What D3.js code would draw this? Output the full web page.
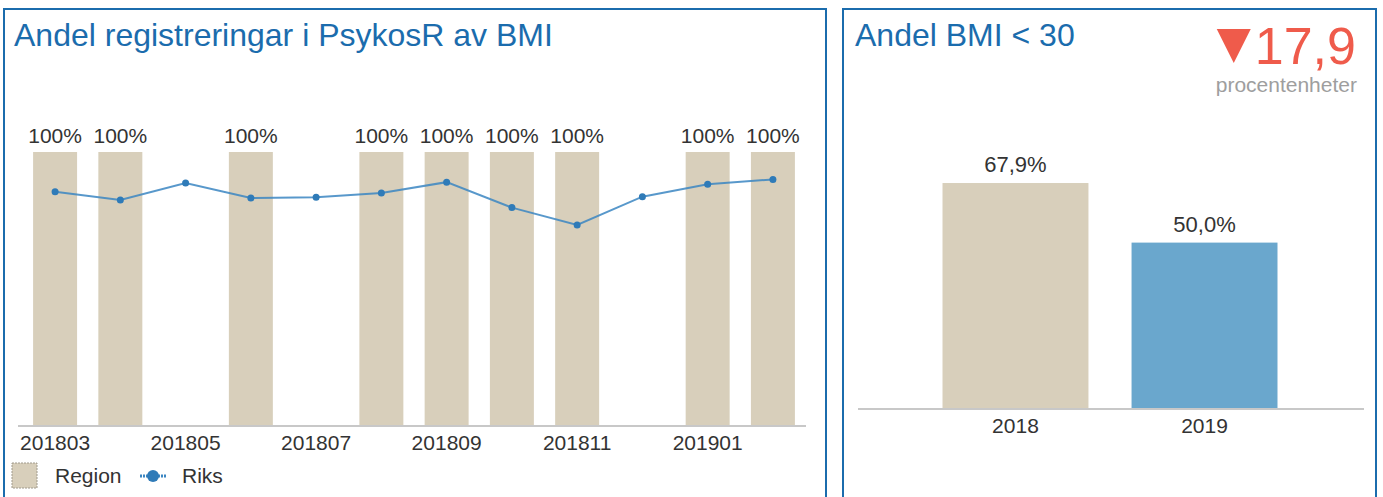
<!DOCTYPE html>
<html>
<head>
<meta charset="utf-8">
<script src="https://cdn.jsdelivr.net/npm/d3@7"></script>
<style>
  body { margin: 0; background: #fff; }
  svg { display: block; font-family: Arial, "Liberation Sans", sans-serif; }
</style>
</head>
<body>
<svg id="chart" width="1383" height="497"></svg>
<script>
// data
var months = ['201803', '201804', '201805', '201806', '201807', '201808',
              '201809', '201810', '201811', '201812', '201901', '201902'];
var regionValues = [100, 100, null, 100, null, 100, 100, 100, 100, null, 100, 100];
var riksValues = [85.5, 82.5, 88.7, 83.2, 83.5, 85.0, 89.0, 79.7, 73.4, 83.7, 88.2, 90.0];
var tickLabels = ['201803', '201805', '201807', '201809', '201811', '201901'];

var years = ['2018', '2019'];
var bmiValues = [67.9, 50.0];
var changeValue = '17,9';
var changeUnit = 'procentenheter';

var blue = '#1b6cad';
var beige = '#d8cfbb';
var textCol = '#333';

var svg = d3.select('#chart');

// panel frames
svg.append('rect').attr('x', 4).attr('y', 9).attr('width', 822).attr('height', 500)
    .attr('fill', 'none').attr('stroke', blue).attr('stroke-width', 2);
svg.append('rect').attr('x', 843).attr('y', 9).attr('width', 533).attr('height', 500)
    .attr('fill', 'none').attr('stroke', blue).attr('stroke-width', 2);

// ---- left panel ----
svg.append('text').attr('x', 14).attr('y', 46)
    .attr('fill', blue).style('font-size', '32px')
    .text('Andel registreringar i PsykosR av BMI');

var x = d3.scaleBand()
    .domain(months)
    .range([22, 806])
    .paddingInner(0.326)
    .paddingOuter(0.17);

var y = d3.scaleLinear()
    .domain([0, 100])
    .range([426, 152]);

var left = svg.append('g');
var region = months.map(function(m, i) { return {m: m, v: regionValues[i]}; })
    .filter(function(d) { return d.v != null; });

left.selectAll('rect.region')
    .data(region)
    .enter()
    .append('rect')
    .attr('class', 'region')
    .attr('x', function(d) { return x(d.m); })
    .attr('y', function(d) { return y(d.v); })
    .attr('width', x.bandwidth())
    .attr('height', function(d) { return y(0) - y(d.v); })
    .attr('fill', beige);

left.selectAll('text.lbl')
    .data(region)
    .enter()
    .append('text')
    .attr('class', 'lbl')
    .attr('x', function(d) { return x(d.m) + x.bandwidth() / 2; })
    .attr('y', function(d) { return y(d.v) - 9; })
    .attr('text-anchor', 'middle')
    .attr('fill', textCol)
    .style('font-size', '21px')
    .text(function(d) { return d.v + '%'; });

var riks = months.map(function(m, i) { return {m: m, v: riksValues[i]}; });
var line = d3.line()
    .x(function(d) { return x(d.m) + x.bandwidth() / 2; })
    .y(function(d) { return y(d.v); });

left.append('path')
    .datum(riks)
    .attr('d', line)
    .attr('fill', 'none')
    .attr('stroke', '#3b86c2')
    .attr('stroke-width', 2)
    .attr('stroke-opacity', 0.85);

left.selectAll('circle.riks')
    .data(riks)
    .enter()
    .append('circle')
    .attr('class', 'riks')
    .attr('cx', function(d) { return x(d.m) + x.bandwidth() / 2; })
    .attr('cy', function(d) { return y(d.v); })
    .attr('r', 3.5)
    .attr('fill', '#2f7bb8');

// x axis
var xAxis = d3.axisBottom(x)
    .tickValues(tickLabels)
    .tickSize(0)
    .tickPadding(9);
var ax = left.append('g')
    .attr('transform', 'translate(0,426)')
    .call(xAxis);
ax.select('.domain').attr('d', 'M18,0H806').attr('stroke', '#c8c8c8').attr('stroke-width', 2);
ax.selectAll('text').attr('fill', textCol).style('font-size', '21px')
    .style('font-family', 'Arial, "Liberation Sans", sans-serif');

// legend
var lg = svg.append('g').attr('transform', 'translate(12,463)');
lg.append('rect').attr('x', 0).attr('y', 0).attr('width', 25).attr('height', 25)
    .attr('fill', beige).attr('stroke', '#a09a8c').attr('stroke-width', 1)
    .attr('stroke-dasharray', '2,1');
lg.append('text').attr('x', 43).attr('y', 20).attr('fill', textCol)
    .style('font-size', '21px').text('Region');
lg.append('line').attr('x1', 128).attr('x2', 154).attr('y1', 13).attr('y2', 13)
    .attr('stroke', '#3b86c2').attr('stroke-width', 3).attr('stroke-dasharray', '2,1');
lg.append('circle').attr('cx', 141).attr('cy', 13).attr('r', 6).attr('fill', '#2f7bb8');
lg.append('text').attr('x', 170).attr('y', 20).attr('fill', textCol)
    .style('font-size', '21px').text('Riks');

// ---- right panel ----
svg.append('text').attr('x', 855).attr('y', 46)
    .attr('fill', blue).style('font-size', '32px')
    .text('Andel BMI < 30');

var red = '#ef5b4b';
var chg = svg.append('text').attr('x', 1356).attr('y', 64)
    .attr('text-anchor', 'end').attr('fill', red)
    .style('font-size', '52px').text(changeValue);
var cb = chg.node().getBBox();
var tx = cb.x - 4;
svg.append('path')
    .attr('d', d3.line()([[tx - 34, 29], [tx, 29], [tx - 17, 63]]) + 'Z')
    .attr('fill', red);
svg.append('text').attr('x', 1357).attr('y', 92)
    .attr('text-anchor', 'end').attr('fill', '#9e9e9e')
    .style('font-size', '21px').text(changeUnit);

var x2 = d3.scaleBand()
    .domain(years)
    .range([858, 1362])
    .paddingInner(0.228)
    .paddingOuter(0.447);

var y2 = d3.scaleLinear()
    .domain([0, 100])
    .range([409, 409 - 332.8]);

var right = svg.append('g');
var bmi = years.map(function(yr, i) { return {yr: yr, v: bmiValues[i]}; });

right.selectAll('rect.bmi')
    .data(bmi)
    .enter()
    .append('rect')
    .attr('class', 'bmi')
    .attr('x', function(d) { return x2(d.yr); })
    .attr('y', function(d) { return y2(d.v); })
    .attr('width', x2.bandwidth())
    .attr('height', function(d) { return y2(0) - y2(d.v); })
    .attr('fill', function(d, i) { return i === 0 ? beige : '#6aa7cd'; });

right.selectAll('text.bl')
    .data(bmi)
    .enter()
    .append('text')
    .attr('class', 'bl')
    .attr('x', function(d) { return x2(d.yr) + x2.bandwidth() / 2; })
    .attr('y', function(d) { return y2(d.v) - 11; })
    .attr('text-anchor', 'middle')
    .attr('fill', textCol)
    .style('font-size', '22px')
    .text(function(d) { return d3.format('.1f')(d.v).replace('.', ',') + '%'; });

var ax2 = right.append('g')
    .attr('transform', 'translate(0,409)')
    .call(d3.axisBottom(x2).tickSize(0).tickPadding(9));
ax2.select('.domain').attr('d', 'M858,0H1364').attr('stroke', '#c8c8c8').attr('stroke-width', 2);
ax2.selectAll('text').attr('fill', textCol).style('font-size', '21px')
    .style('font-family', 'Arial, "Liberation Sans", sans-serif');
</script>
</body>
</html>
